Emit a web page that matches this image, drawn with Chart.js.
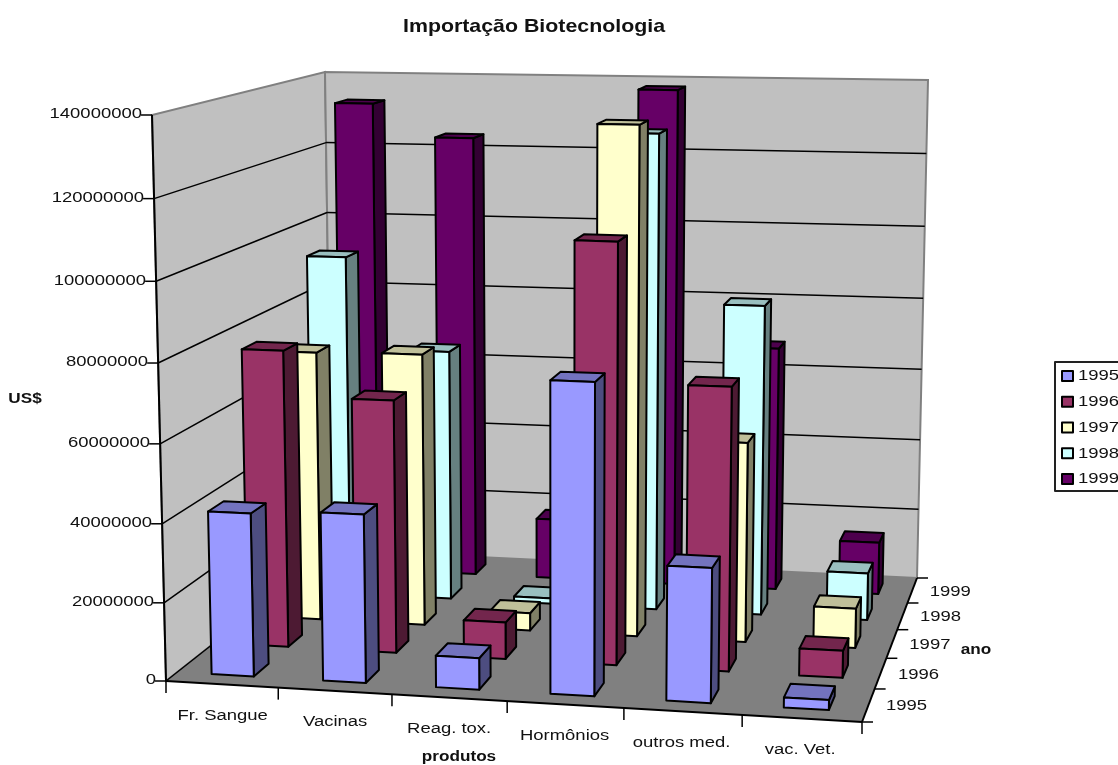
<!DOCTYPE html>
<html>
<head>
<meta charset="utf-8">
<title>Importação Biotecnologia</title>
<script src="https://cdn.jsdelivr.net/npm/chart.js@4/dist/chart.umd.js"></script>
<style>
  html, body { margin: 0; background: #fff; }
  canvas { display: block; }
</style>
</head>
<body>
<canvas id="chart" width="1118" height="765"></canvas>
<script>
const products = ['Fr. Sangue', 'Vacinas', 'Reag. tox.', 'Hormônios', 'outros med.', 'vac. Vet.'];
const years = ['1995', '1996', '1997', '1998', '1999'];

const imports1995 = [41700000, 42800000, 8000000, 78000000, 33700000, 2500000];
const imports1996 = [77700000, 66000000, 9600000, 108000000, 72800000, 7000000];
const imports1997 = [72500000, 73000000, 4700000, 134000000, 53000000, 10500000];
const imports1998 = [94000000, 69000000, 1500000, 129000000, 84200000, 12900000];
const imports1999 = [133000000, 124000000, 17000000, 138000000, 68000000, 14600000];

const seriesColors = ['#9999ff', '#993366', '#ffffcc', '#ccffff', '#660066'];

// screen corners of the plot box, named front/back, left/right, bottom/top
const box = {
    flb: [166, 681], frb: [862, 722], blb: [332, 550], brb: [917, 578],
    flt: [152, 115], frt: [873, 132], blt: [325, 72], brt: [928, 80]
};
// foreshortening along each axis
const persp = { u: 1.04, v: 1.04, w: 0.84 };
const barWidth = 0.38;
const barDepth = 0.42;
const textStretch = 1.2;

const warp = (t, k) => t / (t + k * (1 - t));
const lerp = (a, b, t) => [a[0] + (b[0] - a[0]) * t, a[1] + (b[1] - a[1]) * t];

// trilinear projection of unit cube coordinates to the canvas
function project(u, v, w) {
    const fu = warp(u, persp.u), fv = warp(v, persp.v), fw = warp(w, persp.w);
    const bottom = lerp(lerp(box.flb, box.frb, fu), lerp(box.blb, box.brb, fu), fw);
    const top = lerp(lerp(box.flt, box.frt, fu), lerp(box.blt, box.brt, fu), fw);
    return lerp(bottom, top, fv);
}

// position of a value along its scale, 0..1
function frac(scale, value) {
    const px = scale.getPixelForValue(value);
    return scale.isHorizontal() ? (px - scale.left) / scale.width : (scale.bottom - px) / scale.height;
}

function shade(hex, f) {
    const n = parseInt(hex.slice(1), 16);
    const c = [n >> 16, (n >> 8) & 255, n & 255].map(v => Math.round(v * f));
    return 'rgb(' + c.join(',') + ')';
}

function poly(ctx, pts, fill, stroke, width) {
    ctx.beginPath();
    pts.forEach((p, i) => i ? ctx.lineTo(p[0], p[1]) : ctx.moveTo(p[0], p[1]));
    ctx.closePath();
    if (fill) {
        ctx.fillStyle = fill;
        ctx.fill();
    }
    if (stroke) {
        ctx.strokeStyle = stroke;
        ctx.lineWidth = width;
        ctx.stroke();
    }
}

function line(ctx, a, b, color, width) {
    ctx.beginPath();
    ctx.moveTo(a[0], a[1]);
    ctx.lineTo(b[0], b[1]);
    ctx.strokeStyle = color;
    ctx.lineWidth = width;
    ctx.stroke();
}

// the labels are wider than the font's natural proportions
function label(ctx, str, x, y, align, bold, size) {
    ctx.save();
    ctx.translate(x, y);
    ctx.scale(textStretch, 1);
    ctx.font = (bold ? 'bold ' : '') + size + 'px "Liberation Sans", Arial, sans-serif';
    ctx.textAlign = align;
    ctx.textBaseline = 'middle';
    ctx.fillStyle = '#111';
    ctx.fillText(str, 0, 0);
    ctx.restore();
}

function drawWalls(chart) {
    const ctx = chart.ctx, y = chart.scales.y;
    poly(ctx, [box.flb, box.blb, box.blt, box.flt], '#c0c0c0', '#808080', 2);
    poly(ctx, [box.blb, box.brb, box.brt, box.blt], '#c0c0c0', '#808080', 2);
    poly(ctx, [box.flb, box.frb, box.brb, box.blb], '#808080');
    y.ticks.forEach(t => {
        const v = frac(y, t.value);
        if (v >= 1) return;
        line(ctx, project(0, v, 0), project(0, v, 1), '#000', 1.5);
        if (v > 0) line(ctx, project(0, v, 1), project(1, v, 1), '#000', 1.5);
    });
}

function drawAxes(chart) {
    const ctx = chart.ctx, { x, y, depth } = chart.scales;

    line(ctx, box.flb, box.flt, '#000', 2);
    line(ctx, box.flb, box.frb, '#000', 2);
    line(ctx, box.frb, box.brb, '#000', 2);

    y.ticks.forEach(t => {
        const p = project(0, frac(y, t.value), 0);
        line(ctx, [p[0] - 11, p[1]], p, '#000', 1.5);
        label(ctx, String(t.value), p[0] - 10, p[1] - 1, 'right', false, 15.4);
    });

    for (let i = 0; i <= products.length; i++) {
        const p = project(frac(x, i - 0.5), 0, 0);
        line(ctx, p, [p[0], p[1] + 12], '#000', 1.5);
    }
    products.forEach((name, i) => {
        const u = frac(x, i);
        const p = project(u, 0, 0);
        label(ctx, name, p[0] + 1 - 3 * u, p[1] + 31, 'center', false, 15.4);
    });

    for (let j = 0; j <= years.length; j++) {
        const p = project(1, 0, frac(depth, j - 0.5));
        line(ctx, p, [p[0] + 11, p[1]], '#000', 1.5);
    }
    years.forEach((year, j) => {
        const p = project(1, 0, frac(depth, j));
        label(ctx, year, p[0] + 38, p[1] + 1, 'center', false, 15.4);
    });

    label(ctx, 'Importação Biotecnologia', 534, 27, 'center', true, 17.8);
    label(ctx, 'US$', 25, 399, 'center', true, 14.3);
    label(ctx, 'produtos', 459, 757, 'center', true, 14.3);
    label(ctx, 'ano', 976, 650, 'center', true, 14.3);
}

function drawLegend(chart) {
    const ctx = chart.ctx;
    ctx.strokeStyle = '#222';
    ctx.lineWidth = 2;
    ctx.strokeRect(1055, 362, 80, 129);
    chart.data.datasets.forEach((ds, i) => {
        const cy = 376 + 25.75 * i;
        ctx.fillStyle = ds.backgroundColor;
        ctx.fillRect(1062, cy - 5, 11, 10);
        ctx.strokeStyle = '#000';
        ctx.lineWidth = 2;
        ctx.strokeRect(1062, cy - 5, 11, 10);
        label(ctx, ds.label, 1078, cy, 'left', false, 15.4);
    });
}

function drawBars(chart, index) {
    const ctx = chart.ctx, { x, y, depth } = chart.scales;
    const ds = chart.data.datasets[index];
    const w0 = frac(depth, index - barDepth / 2), w1 = frac(depth, index + barDepth / 2);
    ctx.lineJoin = 'round';
    ds.data.forEach((value, i) => {
        const u0 = frac(x, i - barWidth / 2), u1 = frac(x, i + barWidth / 2);
        const v = frac(y, value);
        poly(ctx, [project(u1, 0, w0), project(u1, 0, w1), project(u1, v, w1), project(u1, v, w0)],
            shade(ds.backgroundColor, 0.5), '#000', 2);
        poly(ctx, [project(u0, v, w0), project(u1, v, w0), project(u1, v, w1), project(u0, v, w1)],
            shade(ds.backgroundColor, 0.75), '#000', 2);
        poly(ctx, [project(u0, 0, w0), project(u1, 0, w0), project(u1, v, w0), project(u0, v, w0)],
            ds.backgroundColor, '#000', 2);
    });
}

const box3d = {
    id: 'box3d',
    beforeDatasetsDraw(chart) {
        drawWalls(chart);
    },
    // datasets come through back row first, so nearer bars paint over farther ones
    beforeDatasetDraw(chart, args) {
        drawBars(chart, args.index);
        return false;
    },
    afterDatasetsDraw(chart) {
        drawAxes(chart);
        drawLegend(chart);
    }
};

new Chart(document.getElementById('chart'), {
    type: 'bar',
    data: {
        labels: products,
        datasets: [imports1995, imports1996, imports1997, imports1998, imports1999].map((data, i) => ({
            label: years[i],
            data: data,
            backgroundColor: seriesColors[i]
        }))
    },
    options: {
        responsive: false,
        animation: false,
        events: [],
        plugins: { legend: { display: false }, tooltip: { enabled: false } },
        scales: {
            x: { display: false },
            y: { display: false, min: 0, max: 140000000, ticks: { stepSize: 20000000 } },
            depth: { type: 'category', axis: 'x', labels: years, offset: true, display: false }
        }
    },
    plugins: [box3d]
});
</script>
</body>
</html>
